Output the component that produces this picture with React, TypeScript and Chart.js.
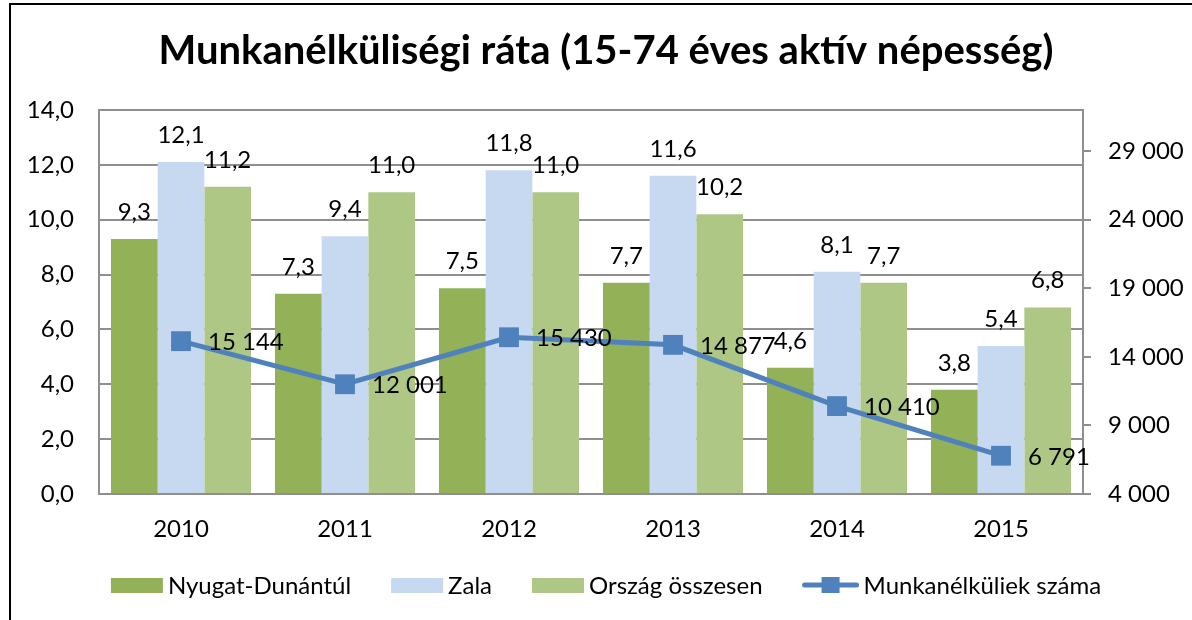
import React, { useEffect, useRef } from "react";
import { Chart, registerables } from "chart.js";

Chart.register(...registerables);

const years = ["2010", "2011", "2012", "2013", "2014", "2015"];
const nyugatDunantul = [9.3, 7.3, 7.5, 7.7, 4.6, 3.8];
const zala = [12.1, 9.4, 11.8, 11.6, 8.1, 5.4];
const orszagOsszesen = [11.2, 11.0, 11.0, 10.2, 7.7, 6.8];
const munkanelkuliekSzama = [15144, 12001, 15430, 14877, 10410, 6791];
const rightTicks = [4000, 9000, 14000, 19000, 24000, 29000];

const TITLE = "Munkanélküliségi ráta (15-74 éves aktív népesség)";
const FONT = "Lato";
const FS = 24;
const GRID = "#8f8f8f";

const fmtDec = (v: number) => v.toFixed(1).replace(".", ",");
const fmtThousand = (v: number) => String(Math.round(v)).replace(/\B(?=(\d{3})+(?!\d))/g, " ");

const framePlugin = {
  id: "frame",
  beforeDraw(chart: any) {
    const ctx = chart.ctx;
    ctx.save();
    ctx.fillStyle = "#ffffff";
    ctx.fillRect(0, 0, chart.width, chart.height);
    ctx.strokeStyle = "#000000";
    ctx.lineWidth = 2;
    ctx.strokeRect(10, 4, 3000, 3000);
    ctx.restore();
  },
};

const titlePlugin = {
  id: "customTitle",
  afterDraw(chart: any) {
    const ctx = chart.ctx;
    ctx.save();
    ctx.font = `bold 40px ${FONT}`;
    ctx.fillStyle = "#000";
    ctx.textAlign = "center";
    ctx.textBaseline = "alphabetic";
    ctx.fillText(TITLE, 606, 64);
    ctx.restore();
  },
};

const labelPlugin = {
  id: "valueLabels",
  afterDatasetsDraw(chart: any) {
    const ctx = chart.ctx;
    ctx.save();
    ctx.font = `${FS}px ${FONT}`;
    ctx.fillStyle = "#000";
    ctx.textBaseline = "alphabetic";
    chart.data.datasets.forEach((ds: any, di: number) => {
      const meta = chart.getDatasetMeta(di);
      meta.data.forEach((el: any, i: number) => {
        const v = ds.data[i];
        if (ds.type === "line") {
          ctx.textAlign = "left";
          ctx.fillText(fmtThousand(v), el.x + 27, el.y + 9);
        } else {
          ctx.textAlign = "center";
          ctx.fillText(fmtDec(v), el.x, el.y - 19);
        }
      });
    });
    ctx.restore();
  },
};

const legendPlugin = {
  id: "customLegend",
  afterDraw(chart: any) {
    const ctx = chart.ctx;
    ctx.save();
    ctx.font = `${FS}px ${FONT}`;
    const boxW = 52;
    const lineW = 56;
    const gapText = 5;
    const gapItem = 40;
    const items = chart.data.datasets.map((ds: any) => {
      const sw = ds.type === "line" ? lineW : boxW;
      return { ds, sw, tw: ctx.measureText(ds.label).width };
    });
    const total =
      items.reduce((s: number, it: any) => s + it.sw + gapText + it.tw, 0) + gapItem * (items.length - 1);
    let x = 606 - total / 2;
    const cy = 585;
    items.forEach((it: any) => {
      const ds = it.ds;
      if (ds.type === "line") {
        ctx.strokeStyle = ds.borderColor;
        ctx.lineWidth = 5;
        ctx.lineCap = "round";
        ctx.beginPath();
        ctx.moveTo(x + 2, cy);
        ctx.lineTo(x + it.sw - 2, cy);
        ctx.stroke();
        ctx.fillStyle = ds.pointBackgroundColor;
        ctx.fillRect(x + it.sw / 2 - 9, cy - 8, 18, 16);
      } else {
        ctx.fillStyle = ds.backgroundColor;
        ctx.fillRect(x, cy - 7, it.sw, 15);
      }
      x += it.sw + gapText;
      ctx.fillStyle = "#000";
      ctx.textAlign = "left";
      ctx.textBaseline = "middle";
      ctx.fillText(ds.label, x, cy + 1);
      x += it.tw + gapItem;
    });
    ctx.restore();
  },
};

export default function App() {
  const ref = useRef<HTMLCanvasElement | null>(null);

  useEffect(() => {
    document.body.style.margin = "0";
    const canvas = ref.current;
    if (!canvas) return;
    const chart = new Chart(canvas, {
      type: "bar",
      data: {
        labels: years,
        datasets: [
          {
            type: "bar",
            label: "Nyugat-Dunántúl",
            data: nyugatDunantul,
            backgroundColor: "#93B157",
            yAxisID: "y",
            order: 1,
          },
          {
            type: "bar",
            label: "Zala",
            data: zala,
            backgroundColor: "#C6D9F1",
            yAxisID: "y",
            order: 1,
          },
          {
            type: "bar",
            label: "Ország összesen",
            data: orszagOsszesen,
            backgroundColor: "#AEC785",
            yAxisID: "y",
            order: 1,
          },
          {
            type: "line",
            label: "Munkanélküliek száma",
            data: munkanelkuliekSzama,
            borderColor: "#4F81BD",
            backgroundColor: "#4F81BD",
            pointBackgroundColor: "#4F81BD",
            pointBorderColor: "#4F81BD",
            pointStyle: "rect",
            pointRadius: 14,
            pointBorderWidth: 0,
            borderWidth: 5,
            tension: 0,
            yAxisID: "y1",
            order: 0,
          } as any,
        ],
      },
      options: {
        responsive: false,
        animation: false,
        devicePixelRatio: 1,
        layout: { padding: { top: 110, bottom: 70, left: 0, right: 0 } },
        plugins: {
          legend: { display: false },
          title: { display: false },
          tooltip: { enabled: false },
        },
        datasets: {
          bar: { categoryPercentage: 0.854, barPercentage: 1 },
        },
        scales: {
          x: {
            offset: true,
            grid: { display: false, drawTicks: false },
            border: { display: true, color: GRID, width: 2 },
            ticks: {
              color: "#000",
              font: { family: FONT, size: FS },
              padding: 21,
              maxRotation: 0,
            },
            afterFit(scale: any) {
              scale.height = 56;
            },
          },
          y: {
            position: "left",
            min: 0,
            max: 14,
            ticks: {
              stepSize: 2,
              color: "#000",
              font: { family: FONT, size: FS },
              padding: 25,
              callback: (v: any) => fmtDec(Number(v)),
            },
            grid: { color: GRID, lineWidth: 2, drawTicks: false },
            border: { display: true, color: GRID, width: 2 },
            afterFit(scale: any) {
              scale.width = 99;
            },
          },
          y1: {
            position: "right",
            min: 4000,
            max: 32000,
            afterBuildTicks(scale: any) {
              scale.ticks = rightTicks.map((v) => ({ value: v }));
            },
            ticks: {
              color: "#000",
              font: { family: FONT, size: FS },
              padding: 17,
              callback: (v: any) => fmtThousand(Number(v)),
            },
            grid: { drawOnChartArea: false, drawTicks: true, tickLength: 8, color: GRID, lineWidth: 2 },
            border: { display: true, color: GRID, width: 2 },
            afterFit(scale: any) {
              scale.width = 109;
            },
          },
        },
      },
      plugins: [framePlugin, labelPlugin, titlePlugin, legendPlugin],
    });
    return () => chart.destroy();
  }, []);

  return (
    <div style={{ position: "absolute", left: 0, top: 0, width: 1192, height: 620 }}>
      <canvas ref={ref} width={1192} height={620} style={{ display: "block" }} />
    </div>
  );
}
